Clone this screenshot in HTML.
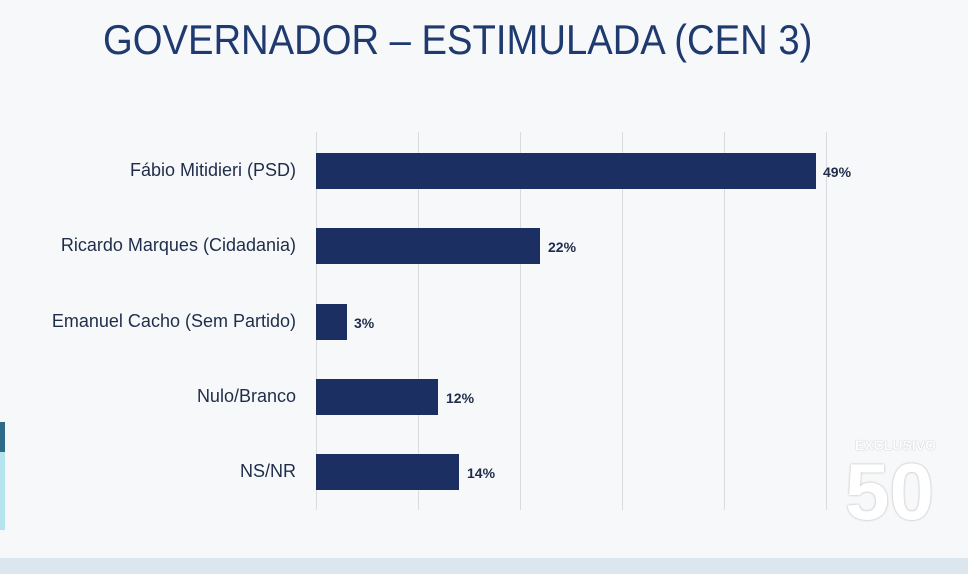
<!DOCTYPE html>
<html><head><style>
body{margin:0;width:968px;height:574px;overflow:hidden;background:#f7f8fa;font-family:"Liberation Sans",sans-serif;position:relative}
.t{position:absolute;left:103px;top:16px;font-size:42px;color:#1f3a6e;white-space:nowrap;transform:scaleX(0.91);transform-origin:left top}
.g{position:absolute;top:132px;height:378px;width:1px;background:#d9dbe0}
.l{position:absolute;right:672px;font-size:18px;color:#1f2d4a;white-space:nowrap}
.b{position:absolute;left:316px;height:36px;background:#1b2f63}
.v{position:absolute;font-size:14px;font-weight:bold;color:#1f2d4a}
</style></head><body>
<div class="t">GOVERNADOR – ESTIMULADA (CEN 3)</div>
<div class="g" style="left:316px"></div><div class="g" style="left:418px"></div><div class="g" style="left:520px"></div><div class="g" style="left:622px"></div><div class="g" style="left:724px"></div><div class="g" style="left:826px"></div>
<div class="l" style="top:160px">Fábio Mitidieri (PSD)</div>
<div class="l" style="top:235px">Ricardo Marques (Cidadania)</div>
<div class="l" style="top:311px">Emanuel Cacho (Sem Partido)</div>
<div class="l" style="top:386px">Nulo/Branco</div>
<div class="l" style="top:461px">NS/NR</div>
<div class="b" style="top:153px;width:500px"></div><div class="v" style="left:823px;top:164px">49%</div>
<div class="b" style="top:228px;width:224px"></div><div class="v" style="left:548px;top:239px">22%</div>
<div class="b" style="top:304px;width:31px"></div><div class="v" style="left:354px;top:315px">3%</div>
<div class="b" style="top:379px;width:122px"></div><div class="v" style="left:446px;top:390px">12%</div>
<div class="b" style="top:454px;width:143px"></div><div class="v" style="left:467px;top:465px">14%</div>
<div style="position:absolute;left:0;top:422px;width:5px;height:30px;background:#2d6b86"></div>
<div style="position:absolute;left:0;top:452px;width:5px;height:78px;background:#b5e3ee"></div>
<div style="position:absolute;left:0;top:558px;width:968px;height:16px;background:#dbe6ee"></div>
<div style="position:absolute;left:855px;top:437px;font-size:14px;font-weight:bold;color:#fff;text-shadow:0 0 1px #999">EXCLUSIVO</div>
<div style="position:absolute;left:845px;top:452px;font-size:80px;font-weight:bold;color:#fff;text-shadow:0 0 2px #aaa;line-height:80px">50</div>
</body></html>
